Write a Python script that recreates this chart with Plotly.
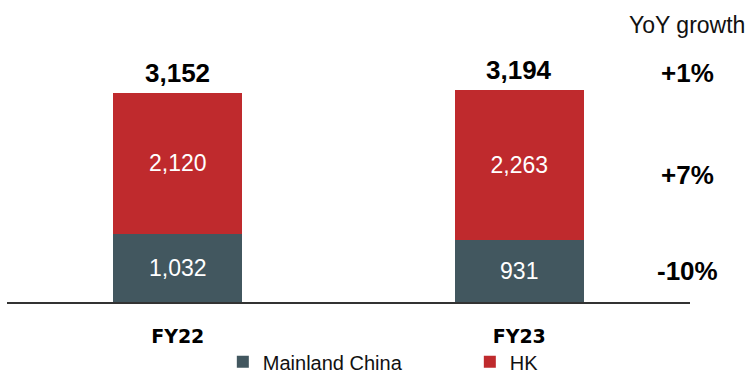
import plotly.graph_objects as go

categories = ["FY22", "FY23"]
mainland_china = [1032, 931]
hk = [2120, 2263]
totals = [3152, 3194]
yoy_labels = ["+1%", "+7%", "-10%"]

MC_COLOR = "#42575F"
HK_COLOR = "#BF2A2D"
FONT = "Liberation Sans, Arial, sans-serif"

fig = go.Figure()
fig.add_trace(go.Bar(
    name="Mainland China", x=categories, y=mainland_china,
    marker=dict(color=MC_COLOR, line=dict(width=0)), width=0.378,
    text=[f"{v:,}" for v in mainland_china], textposition="inside",
    insidetextanchor="middle", textangle=0, constraintext="none",
    textfont=dict(color="white", size=23, family=FONT),
))
fig.add_trace(go.Bar(
    name="HK", x=categories, y=hk,
    marker=dict(color=HK_COLOR, line=dict(width=0)), width=0.378,
    text=[f"{v:,}" for v in hk], textposition="inside",
    insidetextanchor="middle", textangle=0, constraintext="none",
    textfont=dict(color="white", size=23, family=FONT),
))

for c, t in zip(categories, totals):
    fig.add_annotation(x=c, y=t, xref="x", yref="y", text=f"<b>{t:,}</b>",
                       showarrow=False, yanchor="bottom", yshift=3,
                       font=dict(size=26, color="black", family=FONT))

fig.add_annotation(x=0.996, y=1.057, xref="paper", yref="paper", text="YoY growth",
                   showarrow=False, xanchor="center", yanchor="middle",
                   font=dict(size=23, color="#111", family=FONT))
for lbl, py in zip(yoy_labels, [0.874, 0.485, 0.118]):
    fig.add_annotation(x=0.996, y=py, xref="paper", yref="paper", text=f"<b>{lbl}</b>",
                       showarrow=False, xanchor="center", yanchor="middle",
                       font=dict(size=26, color="black", family=FONT))

fig.update_layout(
    barmode="stack",
    width=756, height=374,
    margin=dict(l=7, r=66, t=40, b=72, autoexpand=False),
    paper_bgcolor="white", plot_bgcolor="white",
    showlegend=True,
    legend=dict(orientation="h", x=0.316, y=-0.154, xanchor="left", yanchor="top",
                font=dict(size=20, color="#111", family=FONT),
                entrywidthmode="pixels", entrywidth=202,
                traceorder="normal", bgcolor="rgba(0,0,0,0)"),
    xaxis=dict(range=[-0.5, 1.5], showline=True, linecolor="#333", linewidth=2,
               ticks="", showgrid=False, zeroline=False, ticklabelstandoff=16,
               tickfont=dict(size=19, color="black", family="DejaVu Sans", weight="bold")),
    yaxis=dict(range=[0, 3950], visible=False, showgrid=False, zeroline=False),
)

fig.write_html("out.html")
